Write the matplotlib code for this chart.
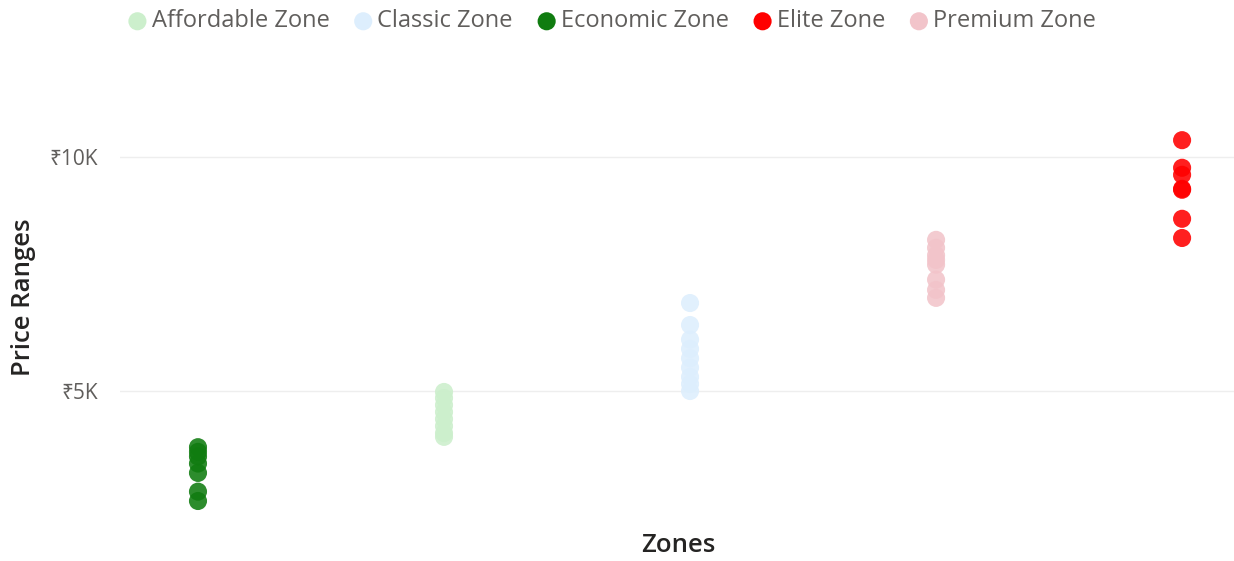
import matplotlib.pyplot as plt
import numpy as np

plt.rcParams['font.family'] = ['Open Sans', 'Noto Sans', 'DejaVu Sans']

zones = ['Economic Zone', 'Affordable Zone', 'Classic Zone', 'Premium Zone', 'Elite Zone']
economic = [3800, 3700, 3600, 3450, 3250, 2850, 2650]
affordable = [4980, 4850, 4700, 4550, 4400, 4250, 4100, 4020]
classic = [6880, 6410, 6100, 5900, 5700, 5500, 5300, 5150, 5000]
premium = [8230, 8060, 7900, 7800, 7700, 7380, 7160, 6990]
elite = [10360, 9770, 9620, 9320, 9300, 8680, 8270]
colors = {'Economic Zone': '#107C10', 'Affordable Zone': '#CCEFCC', 'Classic Zone': '#DDEEFD',
          'Premium Zone': '#F2C4CA', 'Elite Zone': '#FF0000'}
legend_order = ['Affordable Zone', 'Classic Zone', 'Economic Zone', 'Elite Zone', 'Premium Zone']

values = {'Economic Zone': economic, 'Affordable Zone': affordable, 'Classic Zone': classic,
          'Premium Zone': premium, 'Elite Zone': elite}

fig = plt.figure(figsize=(12.34, 5.61), dpi=100)
ax = fig.add_axes([120/1234, 1-520/561, 1-120/1234, (520-60)/561])

handles = {}
for i, z in enumerate(zones):
    v = values[z]
    handles[z] = ax.scatter([i]*len(v), v, s=170, color=colors[z], alpha=0.88,
                            edgecolors='none', zorder=3)

ax.set_xlim(-0.317, 4.211)
ax.set_ylim(2244, 12073)
ax.set_yticks([5000, 10000])
ax.set_yticklabels(['₹5K', '₹10K'])
ax.set_xticks([])
ax.grid(axis='y', color='#EEEEEE', linewidth=1)
ax.set_axisbelow(True)
for s in ax.spines.values():
    s.set_visible(False)
ax.tick_params(axis='y', length=0, labelsize=15, labelcolor='#605E5C', pad=16)

fig.text(678/1234, 1-545/561, 'Zones', ha='center', va='center', fontsize=18.5,
         color='#252423', fontweight='semibold')
fig.text(24/1234, 1-297/561, 'Price Ranges', ha='center', va='center', fontsize=18.5,
         color='#252423', rotation=90, fontweight='semibold')

leg = fig.legend([handles[z] for z in legend_order], legend_order, loc='upper left',
                 bbox_to_anchor=(102/1234, 1.021), ncol=5, frameon=False, fontsize=17,
                 handletextpad=0.0, columnspacing=0.83, handlelength=1.2, markerscale=1.0,
                 labelcolor='#605E5C')
for h in leg.legend_handles:
    h.set_alpha(1)

fig.savefig('out.png', dpi=100)
